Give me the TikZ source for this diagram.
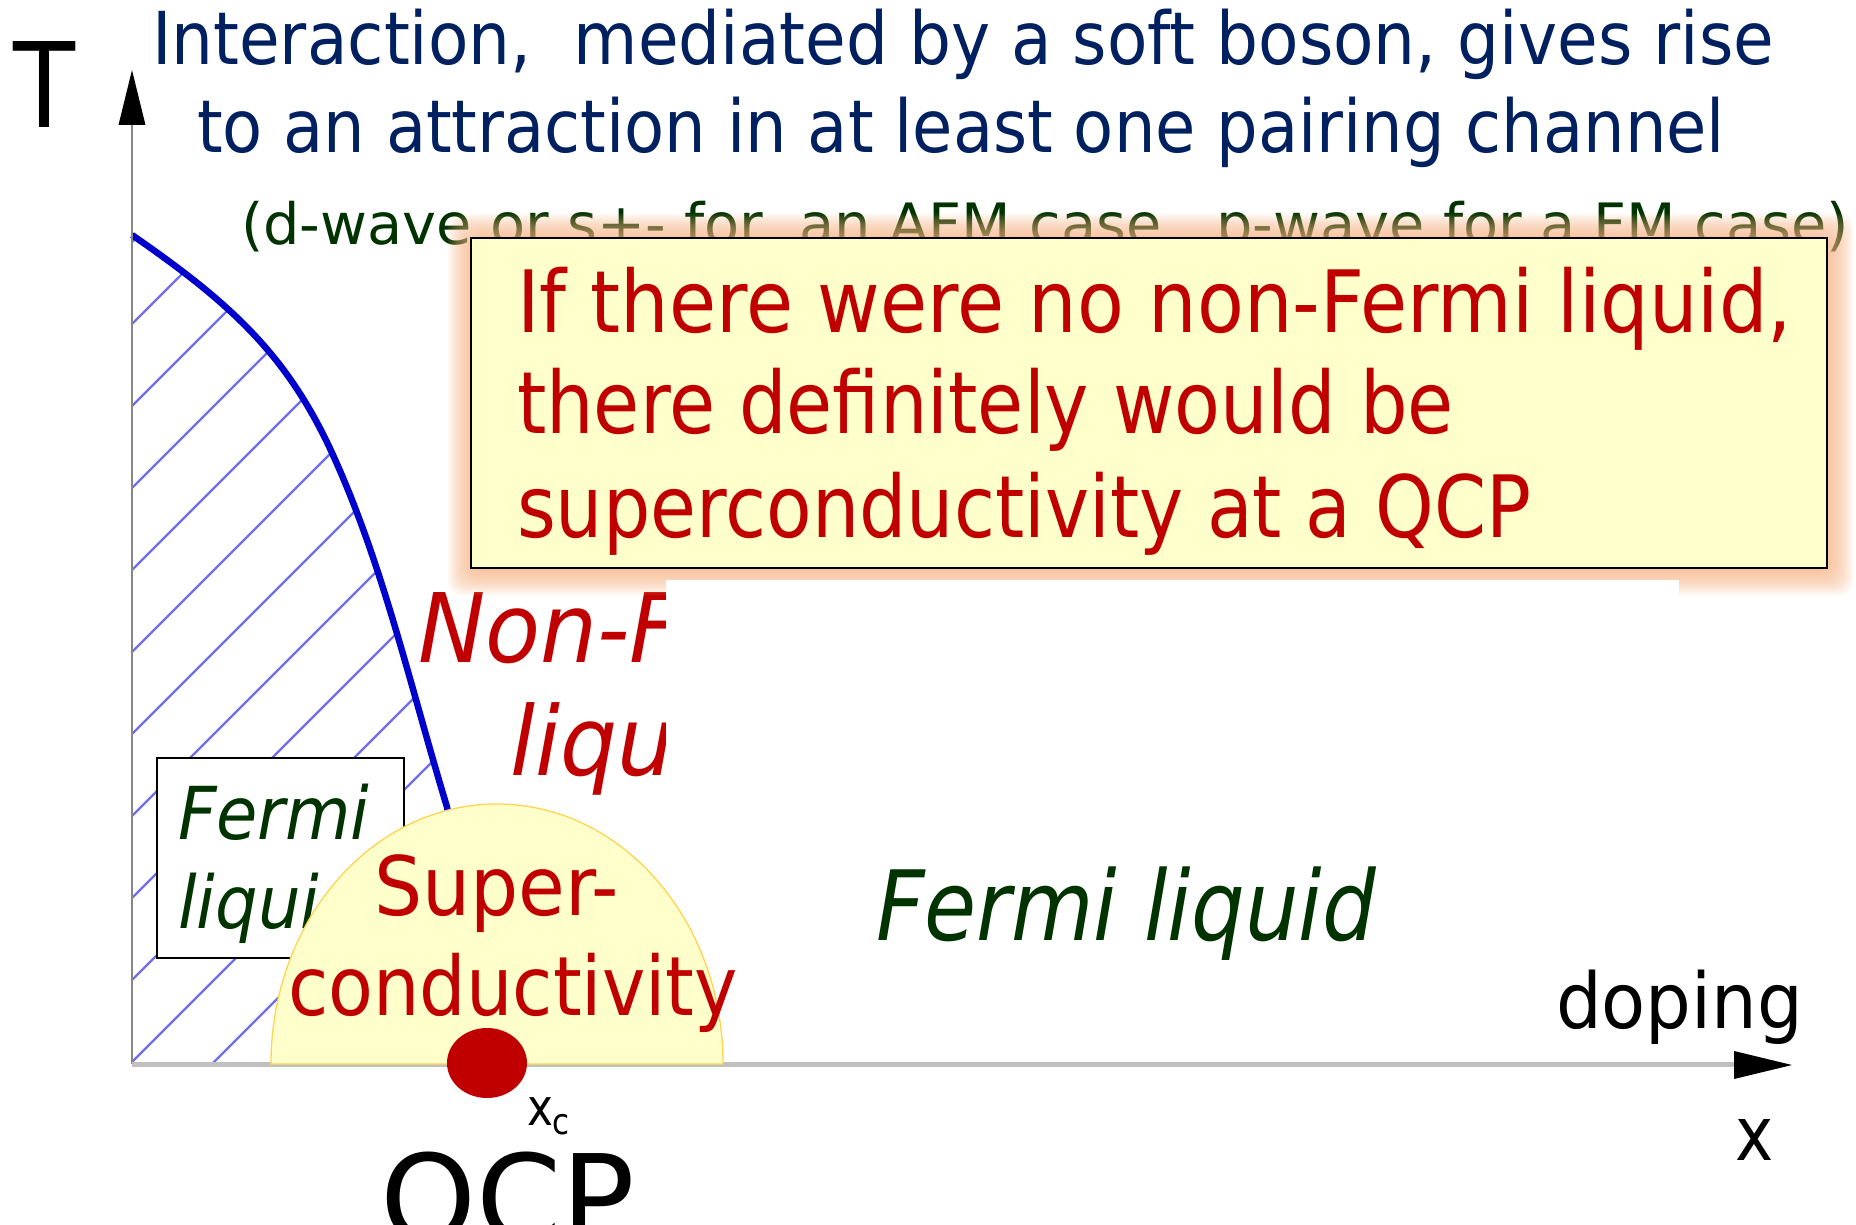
\documentclass[tikz,border=0pt]{standalone}
\usepackage{fontspec}
\setmainfont{DejaVu Sans}[FakeStretch=0.86]
\usepackage{graphicx}
\definecolor{navy}{HTML}{002060}
\definecolor{dgreen}{HTML}{003300}
\definecolor{dred}{HTML}{C00000}
\definecolor{cream}{HTML}{FFFFCC}
\definecolor{peach}{RGB}{250,178,130}
\definecolor{curveblue}{HTML}{0000CC}
\definecolor{hatchblue}{RGB}{110,110,238}
\definecolor{domeline}{HTML}{FFD54F}
\definecolor{yaxis}{RGB}{135,135,135}
\definecolor{xaxis}{RGB}{192,192,192}
\newsavebox\fwbox
\newcommand\fitwd[2]{\sbox\fwbox{#2}\pgfmathsetmacro\fwratio{#1/\the\wd\fwbox}\scalebox{\fwratio}[1]{\usebox\fwbox}}
\newcommand\fsz[1]{\fontsize{#1}{#1}\selectfont}
\begin{document}
\begin{tikzpicture}[x=1pt,y=-1pt,
  txt/.style={anchor=base west, inner sep=0pt, outer sep=0pt},
  hatchline/.style={hatchblue, line width=2.4pt},
  glowlayer/.style={peach, opacity=0.09, rounded corners=14pt}]
\useasboundingbox[fill=white] (0,0) rectangle (1856,1225);

% hatched region under the blue line
\begin{scope}
  \clip (132,235) .. controls (232,304) and (288,356) .. (333,455)
        .. controls (383,565) and (410,685) .. (447,807)
        -- (492,1064) -- (132,1064) -- cycle;
  \foreach \m in {-14,...,6}
    \draw[hatchline] (-100,{1294+82*\m}) -- ++(1300,-1300);
\end{scope}
\draw[curveblue, line width=6.5pt] (132,235) .. controls (232,304) and (288,356) .. (333,455)
        .. controls (383,565) and (410,685) .. (447,807) -- (492,1064);

% axes
\draw[yaxis, line width=2.5pt] (132,1064) -- (132,120);
\fill[black] (132,70) -- (145.5,125) -- (118.5,125) -- cycle;
\draw[xaxis, line width=5pt] (132,1064) -- (1740,1064);
\fill[black] (1792,1065) -- (1734,1051) -- (1734,1079) -- cycle;

\node[txt] (T) at (13,128) {\fsz{118}\fitwd{62}{T}};
\node[txt] (doping) at (1556,1028) {\fsz{77}\fitwd{247}{doping}};
\node[txt] (xlab) at (1735,1160) {\fsz{75}x};

% left Fermi liquid box
\node[draw=black, line width=1.5pt, fill=white, anchor=north west, minimum width=247pt, minimum height=200pt, inner sep=0pt] (fbox) at (156,757) {};
\node[txt, text=dgreen] (fl1) at (178,839) {\fsz{73}\itshape\scalebox{1.07}[1]{Fermi}};
\node[txt, text=dgreen] (fl2) at (178,928) {\fsz{73}\itshape\scalebox{1.07}[1]{liquid}};

% dome
\filldraw[fill=cream, draw=domeline, line width=1.3pt] (271,1064) arc[start angle=180, end angle=360, x radius=226, y radius=260] -- cycle;
\node[txt, text=dred] (sup1) at (374,915) {\fsz{82}\fitwd{245}{Super-}};
\node[txt, text=dred] (sup2) at (288,1015) {\fsz{82}\fitwd{450}{conductivity}};
\fill[dred] (487,1063) ellipse [x radius=40, y radius=35];
\node[txt] (xc) at (527,1125) {\fsz{51}x\raisebox{-9pt}{\fsz{36}c}};
\node[txt] (qcp) at (380,1242) {\fsz{122}\fitwd{255}{QCP}};

% right Fermi liquid
\node[txt, text=dgreen] (flr) at (876,940) {\fsz{97}\itshape\fitwd{500}{Fermi liquid}};

% Non-Fermi liquid (partly hidden)
\node[txt, text=dred] (nfl1) at (418,662) {\fsz{96}\itshape\scalebox{1.09}[1]{Non-Fermi}};
\node[txt, text=dred] (nfl2) at (510,775) {\fsz{96}\itshape\scalebox{1.09}[1]{liquid}};

% titles
\node[txt, text=navy] (t1) at (152,65) {\fsz{73}\fitwd{1622}{Interaction,~ mediated by a soft boson, gives rise}};
\node[txt, text=navy] (t2) at (197,153) {\fsz{73}\fitwd{1528}{to an attraction in at least one pairing channel}};
\node[txt, text=dgreen] (t3) at (241,245) {\fsz{57}\fitwd{1608}{(d-wave or s+- for~ an AFM case,~ p-wave for a FM case)}};

% glow + yellow box
\foreach \i in {1,...,12}
  \fill[glowlayer] ({470-2*\i+2},{237-2*\i+1}) rectangle ({1826+2*\i+3},{567+2*\i+4});
\node[draw=black, line width=2pt, fill=cream, anchor=north west, minimum width=1356pt, minimum height=330pt, inner sep=0pt] (ybox) at (470,237) {};
\node[txt, text=dred] (b1) at (517,332) {\fsz{86}\fitwd{1275}{If there were no non-Fermi liquid,}};
\node[txt, text=dred] (b2) at (517,433) {\fsz{86}\fitwd{937}{there definitely would be}};
\node[txt, text=dred] (b3) at (517,537) {\fsz{86}\fitwd{1014}{superconductivity at a QCP}};

% white cover
\fill[white] (666,580) rectangle (1679,800);
\end{tikzpicture}
\end{document}
